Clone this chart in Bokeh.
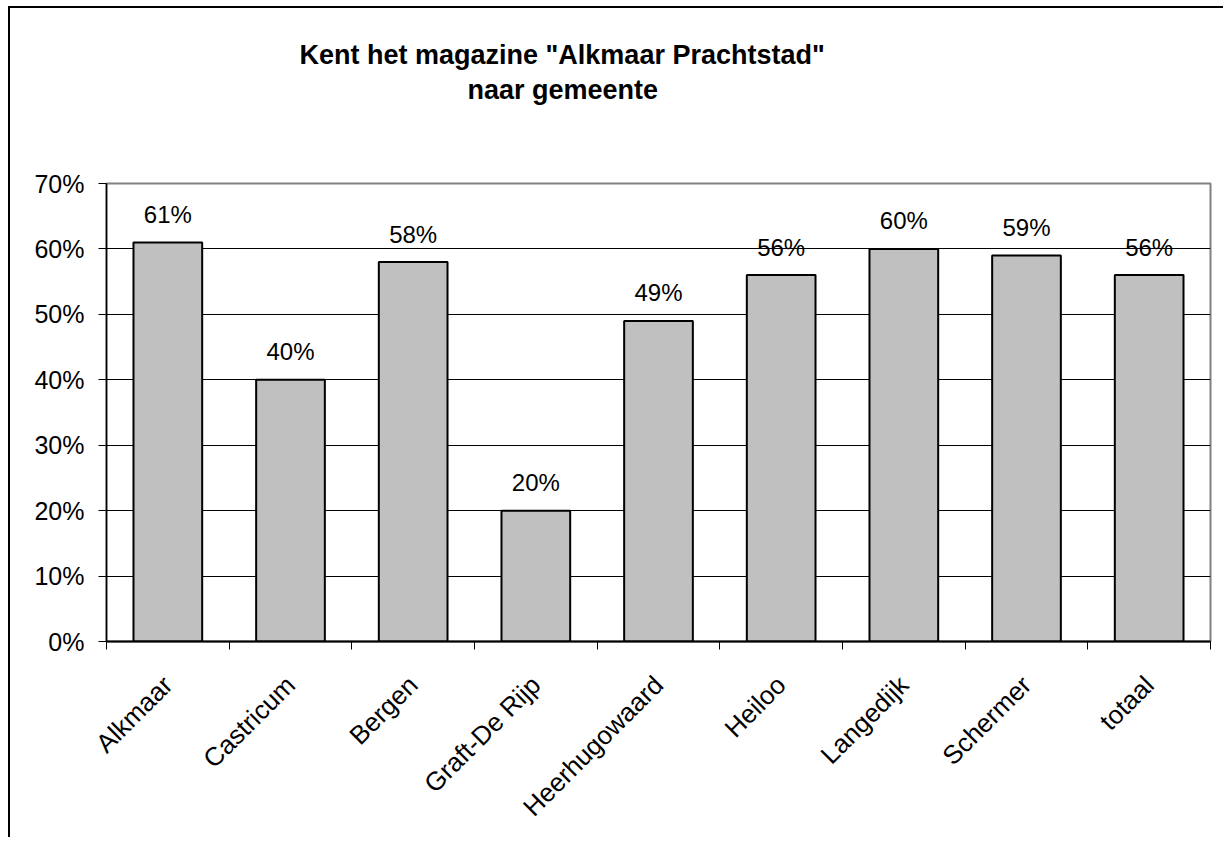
import math
from bokeh.plotting import figure
from bokeh.models import Range1d, FixedTicker, PrintfTickFormatter, Title, ColumnDataSource
from bokeh.core.properties import value
from bokeh.embed import file_html
from bokeh.resources import INLINE

categories = ["Alkmaar", "Castricum", "Bergen", "Graft-De Rijp", "Heerhugowaard",
              "Heiloo", "Langedijk", "Schermer", "totaal"]
percentages = [61, 40, 58, 20, 49, 56, 60, 59, 56]
y_ticks = [0, 10, 20, 30, 40, 50, 60, 70]
title_lines = ['Kent het magazine "Alkmaar Prachtstad"', 'naar gemeente']

FONT = "Liberation Sans"

centers = [i + 0.5 for i in range(len(categories))]
boundaries = list(range(len(categories) + 1))
src = ColumnDataSource(dict(x=centers, top=percentages,
                            label=[f"{v}%" for v in percentages]))

p = figure(width=1215, height=831, output_backend="svg", toolbar_location=None,
           x_range=Range1d(0, len(categories)), y_range=Range1d(0, y_ticks[-1]),
           min_border_left=96, min_border_right=15, min_border_top=175,
           min_border_bottom=198, background_fill_color="white",
           border_fill_color="white")
p.styles = {"border-left": "2px solid black", "border-top": "2px solid black",
            "margin-left": "8px", "margin-top": "6px"}
p.outline_line_color = "#808080"
p.outline_line_width = 2
p.title.text = ""

p.xgrid.visible = False
p.ygrid.ticker = FixedTicker(ticks=y_ticks)
p.ygrid.grid_line_color = "black"
p.ygrid.grid_line_width = 1

p.vbar(x="x", top="top", width=0.56, source=src, fill_color="#C0C0C0",
       line_color="black", line_width=2)
p.text(x="x", y="top", text="label", source=src, text_align="center",
       text_baseline="alphabetic", y_offset=-28, text_font=value(FONT),
       text_font_size="24px", text_color="black")

xa = p.xaxis[0]
xa.ticker = FixedTicker(ticks=centers, minor_ticks=boundaries)
xa.major_label_overrides = {c: n for c, n in zip(centers, categories)}
xa.major_tick_line_color = None
xa.major_tick_out = 0
xa.major_tick_in = 0
xa.minor_tick_line_color = "black"
xa.minor_tick_out = 8
xa.minor_tick_in = 0
xa.major_label_orientation = math.pi / 4
xa.major_label_standoff = 31
xa.major_label_text_font = FONT
xa.major_label_text_font_size = "26px"
xa.major_label_text_color = "black"
xa.axis_line_color = "black"
xa.axis_line_width = 2

ya = p.yaxis[0]
ya.ticker = FixedTicker(ticks=y_ticks)
ya.formatter = PrintfTickFormatter(format="%d%%")
ya.major_tick_out = 8
ya.major_tick_in = 0
ya.minor_tick_line_color = None
ya.major_label_standoff = 14
ya.major_label_text_font = FONT
ya.major_label_text_font_size = "25px"
ya.major_label_text_color = "black"
ya.axis_line_color = "black"
ya.axis_line_width = 1.5
ya.major_tick_line_color = "black"

title_style = dict(text_font=FONT, text_font_style="bold",
                   text_font_size="27px", text_color="black", align="left")
# stacked outward from the frame: spacer, line 2, line 1
p.add_layout(Title(text=" ", standoff=47, **title_style), "above")
p.add_layout(Title(text=title_lines[1], offset=361, standoff=0, **title_style), "above")
p.add_layout(Title(text=title_lines[0], offset=193, standoff=6, **title_style), "above")

open("out.html", "w").write(file_html(p, INLINE))
